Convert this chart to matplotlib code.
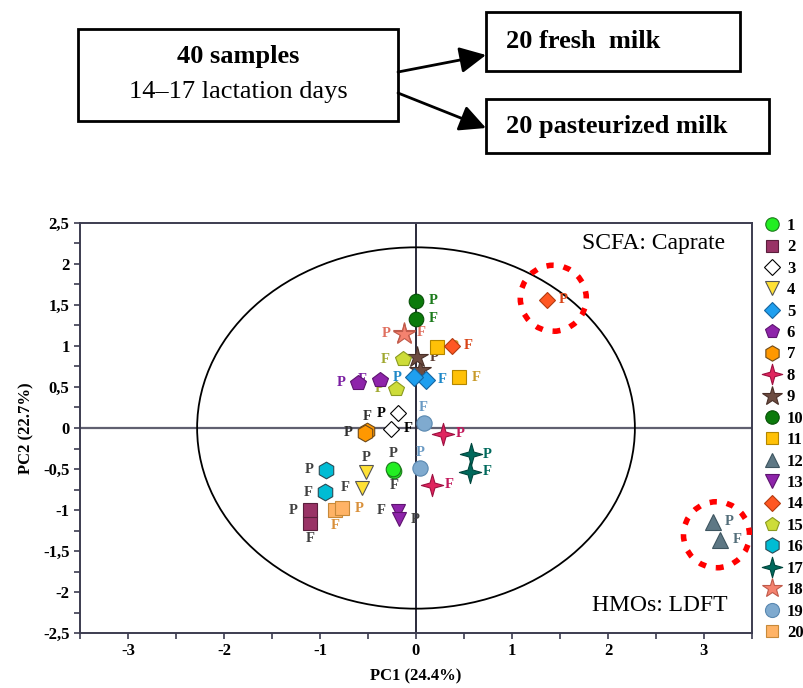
import numpy as np
import matplotlib
matplotlib.use("Agg")
import matplotlib.pyplot as plt
from matplotlib.path import Path
from matplotlib.patches import Ellipse, Rectangle, FancyArrowPatch
from matplotlib.lines import Line2D

plt.rcParams['font.family'] = ['Liberation Serif', 'DejaVu Serif']

# PCA scores: fresh (F) and pasteurized (P) milk, samples 1-20
sample_ids = [str(i) for i in range(1, 21)]
fresh_pc1 = [-0.23, -1.10, -0.26, -0.56, 0.10, -0.38, -0.51, 0.17, 0.04, 0.00,
             0.45, 3.17, -0.19, 0.37, -0.14, -0.95, 0.56, -0.12, 0.08, -0.84]
fresh_pc2 = [-0.52, -1.16, -0.01, -0.73, 0.59, 0.59, -0.04, -0.69, 0.71, 1.33,
             0.62, -1.36, -1.01, 1.00, 0.84, -0.78, -0.53, 1.16, 0.06, -1.00]
past_pc1 = [-0.24, -1.10, -0.19, -0.52, -0.02, -0.60, -0.53, 0.28, 0.01, 0.00,
            0.22, 3.09, -0.18, 1.36, -0.21, -0.94, 0.57, -0.13, 0.04, -0.77]
past_pc2 = [-0.50, -1.00, 0.18, -0.54, 0.62, 0.55, -0.06, -0.07, 0.86, 1.55,
            0.99, -1.14, -1.11, 1.56, 0.48, -0.51, -0.32, 1.15, -0.49, -0.98]

# ellipse and highlighted outliers
ellipse_center = (0.0, 0.0)
ellipse_size = (4.56, 4.40)
highlight_centers = [(1.43, 1.58), (3.13, -1.30)]

# marker styles
star4 = Path([(0, 1), (0.22, 0.22), (1, 0), (0.22, -0.22), (0, -1),
              (-0.22, -0.22), (-1, 0), (-0.22, 0.22), (0, 1)], closed=True)
markers = ['o', 's', 'D', 'v', 'D', 'p', 'h', star4, '*', 'o',
           's', '^', 'v', 'D', 'p', 'h', star4, '*', 'o', 's']
sizes = [10.5, 10, 8.5, 10.5, 9, 11.5, 12, 16, 16, 10.5,
         10, 11, 10.5, 8.5, 11.5, 12, 16, 16, 11, 10]
faces = ['#22EE22', '#993366', '#FFFFFF', '#FFE135', '#1E9FEF', '#8E24AA', '#FF9800',
         '#E0245E', '#6D4C41', '#0B7A0B', '#FFC107', '#5E7885', '#8E24AA', '#FF5722',
         '#CDDC39', '#00BCD4', '#00695C', '#F4826F', '#7FAACF', '#FFB366']
edges = ['#1a7a1a', '#5a1f3c', '#000000', '#555555', '#1565a0', '#5e1470', '#6d4a1a',
         '#9e1040', '#4a3028', '#065006', '#b38600', '#3e5560', '#5e1470', '#b33b10',
         '#8a9a20', '#2a4a55', '#00463d', '#c05a4a', '#5a88b0', '#c78a3a']
label_colors = ['#404040', '#404040', '#000000', '#404040', '#1E88C8', '#7B1FA2', '#303030',
                '#C2185B', '#5D4037', '#1B7A1B', '#C89A2A', '#546E7A', '#404040', '#D84315',
                '#A0A830', '#404040', '#00695C', '#E07060', '#6A9AC4', '#D9903A']
# where the F / P letters sit relative to the marker (r, l, a, b, or '' for none)
fresh_pos = ['b', 'b', 'r', 'l', 'r', 'l', 'a', 'r', '', 'r',
             'r', 'r', 'l', 'r', 'l', 'l', 'r', 'r', 'a', 'b']
past_pos = ['a', 'l', 'l', 'a', 'l', 'l', 'l', 'r', 'r', 'r',
            'r', 'r', 'r', 'r', 'l', 'l', 'r', 'l', 'a', 'r']
zorders = [4, 4, 4, 4, 5, 4, 4, 4, 3, 4, 4, 4, 4, 5, 4, 4, 4, 4, 4, 4]

offsets = {'r': ((9, 0), 'left', 'center'), 'l': ((-9, 0), 'right', 'center'),
           'a': ((0, 11), 'center', 'center'), 'b': ((0, -11), 'center', 'center')}

fig = plt.figure(figsize=(8.04, 6.88), dpi=100)
W, H = 804, 688


def fx(px):
    return px / W


def fy(py):
    return 1 - py / H


# ---- top flow diagram ----
for x0, y0, x1, y1 in [(78, 29, 398, 121), (486, 12, 740, 71), (486, 99, 769, 153)]:
    fig.add_artist(Rectangle((fx(x0), fy(y1)), fx(x1) - fx(x0), fy(y0) - fy(y1),
                             transform=fig.transFigure, fill=False, lw=2, ec='black'))
fig.text(fx(238), fy(57), '40 samples', ha='center', va='center', fontsize=19, fontweight='bold')
fig.text(fx(238), fy(92), '14\u201317 lactation days', ha='center', va='center', fontsize=19)
fig.text(fx(506), fy(42), '20 fresh  milk', ha='left', va='center', fontsize=19, fontweight='bold')
fig.text(fx(506), fy(127), '20 pasteurized milk', ha='left', va='center', fontsize=19,
         fontweight='bold')
for (x0, y0), (x1, y1) in [((398, 72), (486, 55)), ((398, 93), (486, 128))]:
    fig.add_artist(FancyArrowPatch((fx(x0), fy(y0)), (fx(x1), fy(y1)), transform=fig.transFigure,
                                   arrowstyle='-|>,head_length=0.8,head_width=0.4',
                                   mutation_scale=20, lw=2, color='black', shrinkA=0, shrinkB=0))

# ---- score plot ----
ax = fig.add_axes([fx(80), fy(633.3), fx(752) - fx(80), fy(222.7) - fy(633.3)])
ax.set_xlim(-3.5, 3.5)
ax.set_ylim(-2.5, 2.5)

axis_col = '#3c3c50'
ax.axhline(0, color='#606070', lw=1.6, zorder=1)
ax.axvline(0, color='#2a2a3a', lw=1.4, zorder=1)
ax.add_patch(Ellipse(ellipse_center, ellipse_size[0], ellipse_size[1], fill=False,
                     ec='black', lw=1.3, zorder=1))

for i in range(20):
    for xs, ys, pos, letter in [(fresh_pc1, fresh_pc2, fresh_pos, 'F'),
                                (past_pc1, past_pc2, past_pos, 'P')]:
        ax.plot(xs[i], ys[i], marker=markers[i], ms=sizes[i], mfc=faces[i], mec=edges[i],
                mew=0.8, ls='none', zorder=zorders[i])
        if pos[i]:
            off, ha, va = offsets[pos[i]]
            ax.annotate(letter, (xs[i], ys[i]), xytext=off, textcoords='offset points',
                        ha=ha, va=va, fontsize=10.5, fontweight='bold', color=label_colors[i],
                        zorder=3)

for cx, cy in highlight_centers:
    ax.add_patch(Ellipse((cx, cy), 66 / 96, 66 / 82.1, fill=False, ec='#FF0000', lw=4,
                         ls=(0, (1.3, 1.8)), capstyle='butt', zorder=6))

ax.text(3.22, 2.25, 'SCFA: Caprate', ha='right', va='center', fontsize=17)
ax.text(3.25, -2.16, 'HMOs: LDFT', ha='right', va='center', fontsize=17)

ax.set_xticks(np.arange(-3, 4, 1))
ax.set_xticks(np.arange(-3.5, 3.6, 0.5), minor=True)
ax.set_yticks(np.arange(-2.5, 2.6, 0.5))
ax.set_yticks(np.arange(-2.5, 2.6, 0.25), minor=True)
ax.set_xticklabels([f'{v:g}' for v in np.arange(-3, 4, 1)])
ax.set_yticklabels([f'{v:g}'.replace('.', ',') for v in np.arange(-2.5, 2.6, 0.5)])
ax.tick_params(which='both', direction='out', length=4, width=1.2, color=axis_col,
               labelsize=12)
for lab in ax.get_xticklabels() + ax.get_yticklabels():
    lab.set_fontweight('bold')
ax.tick_params(axis='x', pad=3)
for s in ax.spines.values():
    s.set_color(axis_col)
    s.set_linewidth(1.4)

ax.set_xlabel('PC1 (24.4%)', fontsize=12, fontweight='bold', labelpad=7)
ax.set_ylabel('PC2 (22.7%)', fontsize=12, fontweight='bold', labelpad=6)

# ---- legend ----
handles = [Line2D([], [], marker=markers[i], ms=sizes[i] * 0.92, mfc=faces[i], mec=edges[i],
                  mew=0.8, ls='none') for i in range(20)]
fig.legend(handles, sample_ids, loc='upper left', bbox_to_anchor=(fx(761), fy(218)),
           frameon=False, prop={'weight': 'bold', 'size': 12},
           labelspacing=0.325, handletextpad=0.25, handlelength=1.3, borderpad=0,
           borderaxespad=0)

fig.savefig('out.png', dpi=100)
